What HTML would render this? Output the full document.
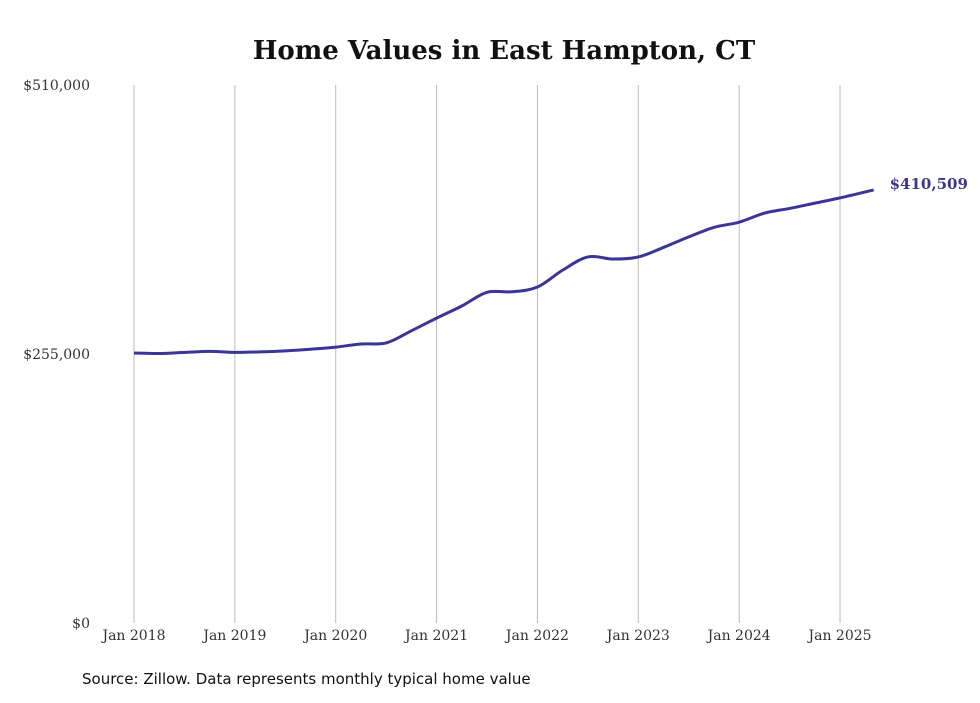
<!DOCTYPE html>
<html><head><meta charset="utf-8"><style>
body{margin:0;background:#fff;width:980px;height:699px;overflow:hidden;font-family:"DejaVu Serif",serif;}
</style></head><body>
<svg width="980" height="699">
<text x="504" y="59" text-anchor="middle" font-size="26" font-weight="bold" fill="#111">Home Values in East Hampton, CT</text>
<g id="grid"></g>
<g id="yaxis"></g>
<g id="xaxis"></g>
<path id="line" fill="none" stroke="#3a3599" stroke-width="3"/>
<text id="endlabel" font-size="15" font-weight="bold" fill="#3a3599"></text>
<text x="82" y="684" font-family="DejaVu Sans, sans-serif" font-size="15" fill="#111">Source: Zillow. Data represents monthly typical home value</text>
</svg>
<script>
const months=[0,3,6,9,12,15,18,21,24,27,30,33,36,39,42,45,48,51,54,57,60,63,66,69,72,75,78,81,84,88];
const values=[256000,255500,256500,257500,256500,257000,258000,259500,261500,264500,265500,277000,289000,300500,313500,314000,318500,334500,347000,345000,347000,356000,366000,375000,380000,388500,393000,398000,403000,410509];
const xTickLabels=["Jan 2018","Jan 2019","Jan 2020","Jan 2021","Jan 2022","Jan 2023","Jan 2024","Jan 2025"];
const yTicks=[0,255000,510000];
const yTickLabels=["$0","$255,000","$510,000"];
const endLabel="$410,509";
const x=m=>134+m/12*100.86;
const y=v=>623-v/510000*538;
const ns="http://www.w3.org/2000/svg";
const grid=document.getElementById('grid'),xa=document.getElementById('xaxis'),ya=document.getElementById('yaxis');
xTickLabels.forEach((l,i)=>{
 const ln=document.createElementNS(ns,'line');
 
 
 ln.setAttribute('x1',x(i*12));ln.setAttribute('x2',x(i*12));ln.setAttribute('y1',85);ln.setAttribute('y2',623);
 ln.setAttribute('stroke','#bbb');ln.setAttribute('stroke-width','1');grid.appendChild(ln);
 const t=document.createElementNS(ns,'text');
 
 
 t.setAttribute('x',x(i*12));t.setAttribute('y',640);t.setAttribute('text-anchor','middle');t.setAttribute('font-size','14');t.setAttribute('fill','#333');
 t.textContent=l;xa.appendChild(t);
});
yTicks.forEach((v,i)=>{
 const t=document.createElementNS(ns,'text');
 
 
 t.setAttribute('x',90);t.setAttribute('y',y(v)+5);t.setAttribute('text-anchor','end');t.setAttribute('font-size','14');t.setAttribute('fill','#333');
 t.textContent=yTickLabels[i];ya.appendChild(t);
});
const P=months.map((m,i)=>[x(m),y(values[i])]);
let d='M'+P[0][0]+','+P[0][1];
for(let i=0;i<P.length-1;i++){
 const p0=P[i-1]||P[i],p1=P[i],p2=P[i+1],p3=P[i+2]||P[i+1];
 const c1=[p1[0]+(p2[0]-p0[0])/6,p1[1]+(p2[1]-p0[1])/6],c2=[p2[0]-(p3[0]-p1[0])/6,p2[1]-(p3[1]-p1[1])/6];
 d+=` C${c1[0]},${c1[1]} ${c2[0]},${c2[1]} ${p2[0]},${p2[1]}`;
}
document.getElementById('line').setAttribute('d',d);
const el=document.getElementById('endlabel');const L=P[P.length-1];
el.setAttribute('x',L[0]+16);el.setAttribute('y',L[1]-1);el.textContent=endLabel;
</script>
</body></html>
